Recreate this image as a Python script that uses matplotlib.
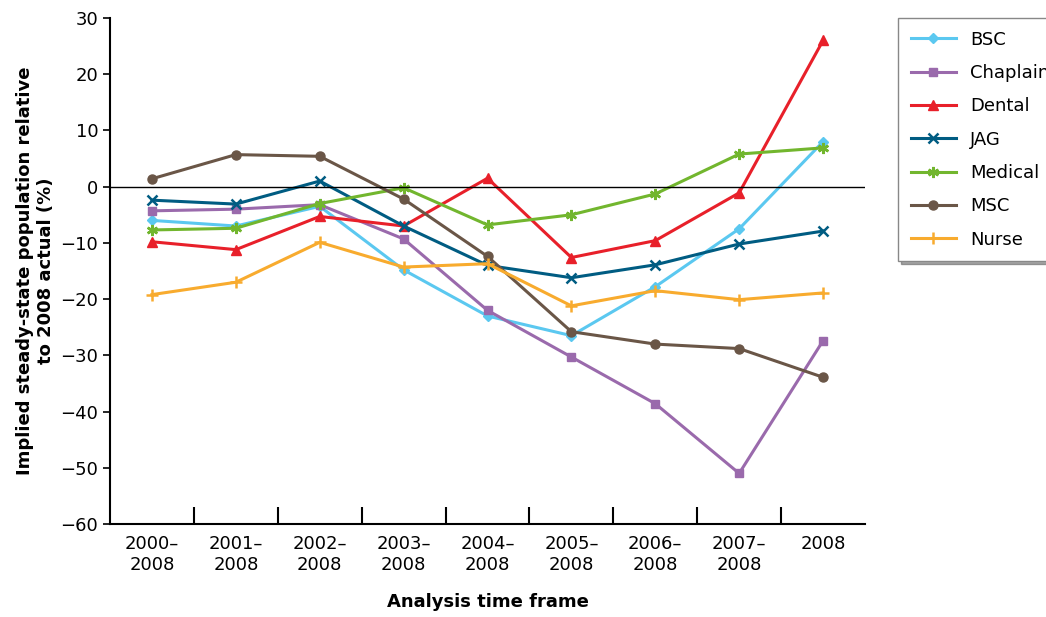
import numpy as np
import matplotlib.pyplot as plt

labels = ['2000–\n2008', '2001–\n2008', '2002–\n2008', '2003–\n2008', '2004–\n2008',
          '2005–\n2008', '2006–\n2008', '2007–\n2008', '2008']
bsc = [-6, -7, -3.5, -14.8, -23, -26.5, -17.8, -7.5, 8]
chaplain = [-4.3, -4, -3.2, -9.3, -22, -30.3, -38.6, -51, -27.4]
dental = [-9.8, -11.2, -5.3, -7, 1.5, -12.6, -9.6, -1.1, 26]
jag = [-2.4, -3.1, 1, -7, -14, -16.2, -13.9, -10.2, -7.9]
medical = [-7.7, -7.4, -3, -0.2, -6.8, -5, -1.3, 5.8, 6.9]
msc = [1.4, 5.7, 5.4, -2.2, -12.4, -25.8, -28, -28.8, -33.9]
nurse = [-19.2, -17, -9.9, -14.3, -13.7, -21.2, -18.5, -20.1, -18.9]

series = [
    ('BSC', bsc, '#5bc8f0', 'D', 5),
    ('Chaplain', chaplain, '#9a6aac', 's', 6),
    ('Dental', dental, '#e8202a', '^', 7),
    ('JAG', jag, '#005c82', 'x', 7),
    ('Medical', medical, '#72b62e', (6, 2, 0), 8),
    ('MSC', msc, '#6a5647', 'o', 6.5),
    ('Nurse', nurse, '#f8ab2e', '+', 8),
]

fig = plt.figure(figsize=(10.46, 6.17), dpi=100)
ax = fig.add_axes([110 / 1046, 1 - 524 / 617, 755 / 1046, 506 / 617])
x = np.arange(len(labels))
for name, vals, col, mk, ms in series:
    ax.plot(x, vals, color=col, marker=mk, markersize=ms, lw=2.2, label=name,
            markeredgewidth=1.8 if mk in ('x', '+') or isinstance(mk, tuple) else 1)
ax.axhline(0, color='black', lw=1)
ax.set_xlim(-0.5, len(labels) - 0.5)
ax.set_ylim(-60, 30)
ax.set_yticks(range(-60, 31, 10))
ax.set_yticklabels([str(v).replace('-', '−') for v in range(-60, 31, 10)], fontsize=13)
ax.set_xticks(x)
ax.set_xticklabels(labels, fontsize=13)
ax.tick_params(axis='x', length=0, pad=8)
ax.set_xticks(np.arange(0.5, len(labels) - 1, 1), minor=True)
ax.tick_params(axis='x', which='minor', direction='in', length=12, width=1.5)
ax.tick_params(axis='y', direction='out', length=5, width=1.2)
for s in ['top', 'right']:
    ax.spines[s].set_visible(False)
ax.spines['left'].set_linewidth(1.5)
ax.spines['bottom'].set_linewidth(1.5)
ax.set_xlabel('Analysis time frame', fontsize=13, fontweight='bold', labelpad=14)
ax.set_ylabel('Implied steady-state population relative\nto 2008 actual (%)',
              fontsize=13, fontweight='bold')
leg = ax.legend(loc='upper left', bbox_to_anchor=(1.032, 1.018), fontsize=13,
                frameon=True, fancybox=False, shadow=True, edgecolor='#888888',
                handlelength=2.5, labelspacing=0.85, borderpad=0.7)
fig.savefig('out.png', dpi=100)
